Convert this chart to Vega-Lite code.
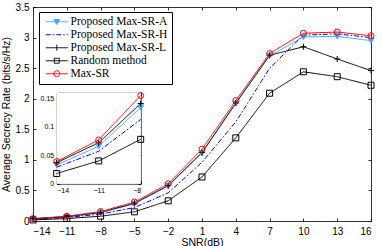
{
  "$schema": "https://vega.github.io/schema/vega-lite/v6.json",
  "width": 338,
  "height": 214,
  "autosize": {"type": "none"},
  "padding": {"left": 33, "top": 7, "right": 11, "bottom": 25},
  "background": "white",
  "config": {
    "view": {"stroke": null},
    "font": "Liberation Sans",
    "legend": {"labelFont": "Liberation Serif", "labelFontSize": 11.5, "labelColor": "black", "rowPadding": 0},
    "axis": {
      "domainColor": "black",
      "domainWidth": 0.8,
      "tickColor": "black",
      "tickWidth": 0.8,
      "tickSize": -3,
      "labelPadding": 8,
      "labelColor": "black",
      "labelFont": "Liberation Sans",
      "labelFontSize": 10,
      "titleFont": "Liberation Sans",
      "titleFontSize": 10.5,
      "titleFontWeight": "normal",
      "titleColor": "black",
      "grid": false
    }
  },
  "datasets": {
    "main": [
      {"snr": -14, "rate": 0.033, "s": "Proposed Max-SR-A"},
      {"snr": -11, "rate": 0.066, "s": "Proposed Max-SR-A"},
      {"snr": -8, "rate": 0.134, "s": "Proposed Max-SR-A"},
      {"snr": -5, "rate": 0.28, "s": "Proposed Max-SR-A"},
      {"snr": -2, "rate": 0.57, "s": "Proposed Max-SR-A"},
      {"snr": 1, "rate": 1.11, "s": "Proposed Max-SR-A"},
      {"snr": 4, "rate": 1.92, "s": "Proposed Max-SR-A"},
      {"snr": 7, "rate": 2.70, "s": "Proposed Max-SR-A"},
      {"snr": 10, "rate": 3.01, "s": "Proposed Max-SR-A"},
      {"snr": 13, "rate": 3.02, "s": "Proposed Max-SR-A"},
      {"snr": 16, "rate": 2.95, "s": "Proposed Max-SR-A"},
      {"snr": -14, "rate": 0.029, "s": "Proposed Max-SR-H"},
      {"snr": -11, "rate": 0.057, "s": "Proposed Max-SR-H"},
      {"snr": -8, "rate": 0.113, "s": "Proposed Max-SR-H"},
      {"snr": -5, "rate": 0.22, "s": "Proposed Max-SR-H"},
      {"snr": -2, "rate": 0.46, "s": "Proposed Max-SR-H"},
      {"snr": 1, "rate": 0.96, "s": "Proposed Max-SR-H"},
      {"snr": 4, "rate": 1.62, "s": "Proposed Max-SR-H"},
      {"snr": 7, "rate": 2.50, "s": "Proposed Max-SR-H"},
      {"snr": 10, "rate": 3.04, "s": "Proposed Max-SR-H"},
      {"snr": 13, "rate": 3.06, "s": "Proposed Max-SR-H"},
      {"snr": 16, "rate": 3.00, "s": "Proposed Max-SR-H"},
      {"snr": -14, "rate": 0.037, "s": "Proposed Max-SR-L"},
      {"snr": -11, "rate": 0.072, "s": "Proposed Max-SR-L"},
      {"snr": -8, "rate": 0.141, "s": "Proposed Max-SR-L"},
      {"snr": -5, "rate": 0.29, "s": "Proposed Max-SR-L"},
      {"snr": -2, "rate": 0.58, "s": "Proposed Max-SR-L"},
      {"snr": 1, "rate": 1.12, "s": "Proposed Max-SR-L"},
      {"snr": 4, "rate": 1.93, "s": "Proposed Max-SR-L"},
      {"snr": 7, "rate": 2.71, "s": "Proposed Max-SR-L"},
      {"snr": 10, "rate": 2.85, "s": "Proposed Max-SR-L"},
      {"snr": 13, "rate": 2.65, "s": "Proposed Max-SR-L"},
      {"snr": 16, "rate": 2.46, "s": "Proposed Max-SR-L"},
      {"snr": -14, "rate": 0.018, "s": "Random method"},
      {"snr": -11, "rate": 0.040, "s": "Random method"},
      {"snr": -8, "rate": 0.078, "s": "Random method"},
      {"snr": -5, "rate": 0.15, "s": "Random method"},
      {"snr": -2, "rate": 0.33, "s": "Random method"},
      {"snr": 1, "rate": 0.72, "s": "Random method"},
      {"snr": 4, "rate": 1.36, "s": "Random method"},
      {"snr": 7, "rate": 2.09, "s": "Random method"},
      {"snr": 10, "rate": 2.44, "s": "Random method"},
      {"snr": 13, "rate": 2.36, "s": "Random method"},
      {"snr": 16, "rate": 2.22, "s": "Random method"},
      {"snr": -14, "rate": 0.039, "s": "Max-SR"},
      {"snr": -11, "rate": 0.077, "s": "Max-SR"},
      {"snr": -8, "rate": 0.155, "s": "Max-SR"},
      {"snr": -5, "rate": 0.31, "s": "Max-SR"},
      {"snr": -2, "rate": 0.61, "s": "Max-SR"},
      {"snr": 1, "rate": 1.175, "s": "Max-SR"},
      {"snr": 4, "rate": 1.97, "s": "Max-SR"},
      {"snr": 7, "rate": 2.74, "s": "Max-SR"},
      {"snr": 10, "rate": 3.07, "s": "Max-SR"},
      {"snr": 13, "rate": 3.09, "s": "Max-SR"},
      {"snr": 16, "rate": 3.03, "s": "Max-SR"}
    ],
    "box": [{"x1": -14, "x2": -8, "y1": 0, "y2": 0.16}]
  },
  "layer": [
    {
      "data": {"name": "main"},
      "resolve": {"axis": {"x": "independent", "y": "independent"}, "legend": {"color": "independent"}},
      "layer": [
        {
          "mark": {"type": "line", "strokeWidth": 1},
          "encoding": {
            "x": {"field": "snr", "type": "quantitative",
              "scale": {"domain": [-14, 16], "nice": false, "zero": false},
              "axis": {"orient": "bottom", "values": [-14, -11, -8, -5, -2, 1, 4, 7, 10, 13, 16], "title": "SNR(dB)", "titlePadding": 1}},
            "y": {"field": "rate", "type": "quantitative",
              "scale": {"domain": [0, 3.5], "nice": false},
              "axis": {"orient": "left", "values": [0, 0.5, 1, 1.5, 2, 2.5, 3, 3.5], "labelExpr": "'' + datum.value", "labelPadding": 7, "title": "Average Secrecy Rate (bits/s/Hz)", "titlePadding": 4}},
            "color": {"field": "s", "type": "nominal",
              "scale": {"domain": ["Proposed Max-SR-A", "Proposed Max-SR-H", "Proposed Max-SR-L", "Random method", "Max-SR"],
                        "range": ["#3FA9F5", "#0000FF", "#000000", "#000000", "#FF0000"]},
              "legend": {
                "title": null, "orient": "none", "legendX": 6, "legendY": 5,
                "symbolSize": 100, "symbolStrokeWidth": 1,
                "labelFont": "Liberation Serif", "labelFontSize": 11.5, "labelColor": "black",
                "padding": 4, "rowPadding": 0, "labelOffset": 8, "symbolOffset": 8,
                "strokeColor": "black", "fillColor": "white",
                "encode": {
                  "symbols": {"update": {
                  "shape": {"signal": "datum.value === 'Proposed Max-SR-A' ? 'M-2.2,0H2.2M-0.6,-0.45L0.6,-0.45L0,0.55Z' : datum.value === 'Proposed Max-SR-H' ? 'M-2.2,0H2.2' : datum.value === 'Proposed Max-SR-L' ? 'M-2.2,0H2.2M0,-0.6V0.6' : datum.value === 'Random method' ? 'M-2.2,0H2.2M-0.5,-0.5H0.5V0.5H-0.5Z' : 'M-2.2,0H2.2M0.6,0A0.6,0.6,0,1,1,-0.6,0A0.6,0.6,0,1,1,0.6,0'"},
                  "fill": {"signal": "datum.value === 'Proposed Max-SR-A' ? '#3FA9F5' : 'transparent'"},
                  "strokeDash": {"signal": "datum.value === 'Proposed Max-SR-H' ? [5, 2, 1.5, 2] : [1, 0]"}
                }}}
              }},
            "strokeDash": {"field": "s", "type": "nominal",
              "scale": {"domain": ["Proposed Max-SR-A", "Proposed Max-SR-H", "Proposed Max-SR-L", "Random method", "Max-SR"],
                        "range": [[1, 0], [5, 2, 1.5, 2], [1, 0], [1, 0], [1, 0]]},
              "legend": null}
          }
        },
        {
          "transform": [{"filter": "datum.s !== 'Proposed Max-SR-H'"}],
          "mark": {"type": "point", "filled": false, "size": 36, "strokeWidth": 1, "opacity": 1},
          "encoding": {
            "x": {"field": "snr", "type": "quantitative",
              "scale": {"domain": [-14, 16], "nice": false, "zero": false},
              "axis": {"orient": "top", "values": [-14, -11, -8, -5, -2, 1, 4, 7, 10, 13, 16], "labels": false, "title": null}},
            "y": {"field": "rate", "type": "quantitative",
              "scale": {"domain": [0, 3.5], "nice": false},
              "axis": {"orient": "right", "values": [0, 0.5, 1, 1.5, 2, 2.5, 3, 3.5], "labels": false, "title": null}},
            "color": {"field": "s", "type": "nominal",
              "scale": {"domain": ["Proposed Max-SR-A", "Proposed Max-SR-H", "Proposed Max-SR-L", "Random method", "Max-SR"],
                        "range": ["#3FA9F5", "#0000FF", "#000000", "#000000", "#FF0000"]},
              "legend": null},
            "shape": {"field": "s", "type": "nominal",
              "scale": {"domain": ["Proposed Max-SR-A", "Proposed Max-SR-L", "Random method", "Max-SR"],
                        "range": ["triangle-down", "M-1,0H1M0,-1V1", "square", "circle"]},
              "legend": null},
            "fill": {"condition": {"test": "datum.s === 'Proposed Max-SR-A'", "value": "#3FA9F5"}, "value": "transparent"}
          }
        }
      ]
    },
    {
      "resolve": {"axis": {"x": "independent", "y": "independent"}},
      "layer": [
        {
          "data": {"name": "box"},
          "mark": {"type": "rect", "fill": "white", "strokeWidth": 0},
          "encoding": {
            "x": {"field": "x1", "type": "quantitative",
              "scale": {"domain": [-14, -8], "range": [23.7, 107.7], "nice": false, "zero": false},
              "axis": {"orient": "bottom", "offset": -37.3, "values": [-14, -11, -8], "title": null, "labelFontSize": 7, "labelPadding": 6}},
            "x2": {"field": "x2"},
            "y": {"field": "y1", "type": "quantitative",
              "scale": {"domain": [0, 0.16], "range": [176.7, 85.7], "nice": false, "zero": false},
              "axis": {"orient": "left", "offset": -23.7, "values": [0, 0.05, 0.1, 0.15], "labelExpr": "'' + datum.value", "title": null, "labelFontSize": 7, "labelPadding": 6}},
            "y2": {"field": "y2"}
          }
        },
        {
          "data": {"name": "main"},
          "transform": [{"filter": "datum.snr <= -8"}],
          "mark": {"type": "line", "strokeWidth": 1},
          "encoding": {
            "x": {"field": "snr", "type": "quantitative",
              "scale": {"domain": [-14, -8], "range": [23.7, 107.7], "nice": false, "zero": false},
              "axis": {"orient": "top", "offset": -85.7, "values": [-14, -11, -8], "labels": false, "title": null}},
            "y": {"field": "rate", "type": "quantitative",
              "scale": {"domain": [0, 0.16], "range": [176.7, 85.7], "nice": false, "zero": false},
              "axis": {"orient": "right", "offset": -230.3, "values": [0, 0.05, 0.1, 0.15], "labels": false, "title": null}},
            "color": {"field": "s", "type": "nominal",
              "scale": {"domain": ["Proposed Max-SR-A", "Proposed Max-SR-H", "Proposed Max-SR-L", "Random method", "Max-SR"],
                        "range": ["#3FA9F5", "#0000FF", "#000000", "#000000", "#FF0000"]},
              "legend": null},
            "strokeDash": {"field": "s", "type": "nominal",
              "scale": {"domain": ["Proposed Max-SR-A", "Proposed Max-SR-H", "Proposed Max-SR-L", "Random method", "Max-SR"],
                        "range": [[1, 0], [5, 2, 1.5, 2], [1, 0], [1, 0], [1, 0]]},
              "legend": null}
          }
        },
        {
          "data": {"name": "main"},
          "transform": [{"filter": "datum.snr <= -8 && datum.s !== 'Proposed Max-SR-H'"}],
          "mark": {"type": "point", "filled": false, "size": 36, "strokeWidth": 1, "opacity": 1},
          "encoding": {
            "x": {"field": "snr", "type": "quantitative",
              "scale": {"domain": [-14, -8], "range": [23.7, 107.7], "nice": false, "zero": false}, "axis": null},
            "y": {"field": "rate", "type": "quantitative",
              "scale": {"domain": [0, 0.16], "range": [176.7, 85.7], "nice": false, "zero": false}, "axis": null},
            "color": {"field": "s", "type": "nominal",
              "scale": {"domain": ["Proposed Max-SR-A", "Proposed Max-SR-H", "Proposed Max-SR-L", "Random method", "Max-SR"],
                        "range": ["#3FA9F5", "#0000FF", "#000000", "#000000", "#FF0000"]},
              "legend": null},
            "shape": {"field": "s", "type": "nominal",
              "scale": {"domain": ["Proposed Max-SR-A", "Proposed Max-SR-L", "Random method", "Max-SR"],
                        "range": ["triangle-down", "M-1,0H1M0,-1V1", "square", "circle"]},
              "legend": null},
            "fill": {"condition": {"test": "datum.s === 'Proposed Max-SR-A'", "value": "#3FA9F5"}, "value": "transparent"}
          }
        }
      ]
    }
  ],
  "resolve": {"scale": {"x": "independent", "y": "independent"}}
}
